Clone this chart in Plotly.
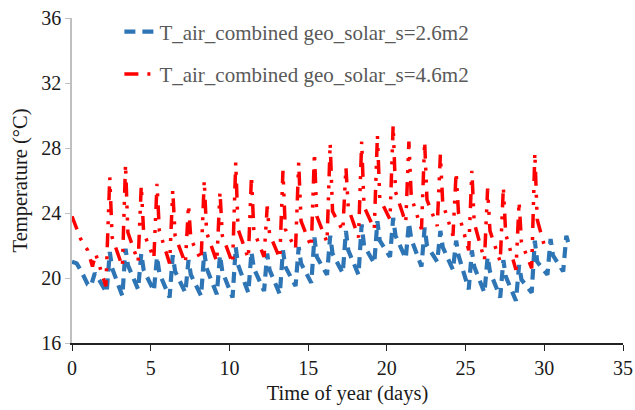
import plotly.graph_objects as go

# Air temperature, combined geothermal + solar system, two collector areas
blue_time = [
    0.00, 0.30, 0.60, 1.00, 1.20, 1.45, 1.60,
    2.20, 2.40, 2.55, 3.20, 3.40, 3.55, 4.20, 4.40, 4.55,
    5.20, 5.40, 5.55, 6.20, 6.40, 6.55, 7.20, 7.40, 7.55,
    8.20, 8.40, 8.55, 9.20, 9.40, 9.55, 10.20, 10.40, 10.55,
    11.20, 11.40, 11.55, 12.20, 12.40, 12.55, 13.20, 13.40, 13.55,
    14.20, 14.40, 14.55, 15.20, 15.40, 15.55, 16.20, 16.40, 16.55,
    17.20, 17.40, 17.55, 18.20, 18.40, 18.55, 19.20, 19.40, 19.55,
    20.20, 20.40, 20.55, 21.20, 21.40, 21.55, 22.20, 22.40, 22.55,
    23.20, 23.40, 23.55, 24.20, 24.40, 24.55, 25.20, 25.40, 25.55,
    26.20, 26.40, 26.55, 27.20, 27.40, 27.55, 28.20, 28.40, 28.55,
    29.20, 29.40, 29.55, 30.20, 30.40, 30.55, 31.20, 31.40, 31.60,
]
blue_temp = [
    21.0, 20.9, 20.4, 19.6, 19.5, 20.3, 20.1,
    19.1, 21.6, 20.6, 18.9, 21.8, 20.8, 19.3, 21.5, 20.5,
    19.2, 21.3, 20.3, 18.8, 21.4, 20.4, 19.1, 21.1, 20.2,
    18.9, 21.6, 20.6, 19.0, 21.4, 20.4, 18.8, 21.9, 20.8,
    19.1, 21.6, 20.6, 19.2, 21.5, 20.5, 19.0, 21.7, 20.7,
    19.5, 21.9, 20.9, 19.7, 22.5, 21.3, 20.2, 22.6, 21.5,
    20.3, 22.9, 21.7, 20.2, 23.3, 22.0, 20.9, 23.5, 22.3,
    21.3, 23.7, 22.6, 21.2, 23.4, 22.4, 20.7, 23.1, 22.0,
    21.0, 22.9, 21.9, 20.5, 22.3, 21.4, 19.3, 21.7, 20.7,
    19.1, 21.3, 20.4, 18.8, 21.1, 20.1, 18.6, 20.8, 19.9,
    19.1, 22.3, 21.0, 20.2, 22.4, 21.4, 20.4, 22.6, 21.9,
]

red_time = [
    0.00, 0.25, 0.55, 1.00, 1.30, 1.50, 1.80,
    2.15, 2.40, 2.55, 3.20, 3.40, 3.55, 4.20, 4.40, 4.55,
    5.20, 5.40, 5.55, 6.20, 6.40, 6.55, 7.20, 7.40, 7.55,
    8.20, 8.40, 8.55, 9.20, 9.40, 9.55, 10.20, 10.40, 10.55,
    11.20, 11.40, 11.55, 12.20, 12.40, 12.55, 13.20, 13.40, 13.55,
    14.20, 14.40, 14.55, 15.20, 15.40, 15.55, 16.20, 16.40, 16.55,
    17.20, 17.40, 17.55, 18.20, 18.40, 18.55, 19.20, 19.40, 19.55,
    20.20, 20.40, 20.55, 21.20, 21.40, 21.55, 22.20, 22.40, 22.55,
    23.20, 23.40, 23.55, 24.20, 24.40, 24.55, 25.20, 25.40, 25.55,
    26.20, 26.40, 26.55, 27.20, 27.40, 27.55, 28.20, 28.40, 28.55,
    29.20, 29.40, 29.55, 30.00,
]
red_temp = [
    23.8, 23.1, 22.4, 21.7, 20.7, 21.5, 20.5,
    19.5, 26.2, 22.5, 20.7, 27.0, 22.8, 21.0, 25.7, 22.8,
    21.2, 25.8, 22.9, 20.9, 25.4, 22.6, 20.9, 24.5, 22.4,
    21.1, 26.0, 22.8, 21.0, 25.3, 22.6, 20.9, 27.1, 23.0,
    21.2, 26.3, 22.9, 21.3, 24.4, 22.7, 21.2, 26.6, 23.0,
    21.8, 27.1, 23.5, 21.9, 27.7, 23.8, 22.2, 28.3, 24.1,
    22.9, 26.8, 24.3, 22.5, 28.4, 24.4, 23.0, 28.8, 24.9,
    23.6, 29.4, 25.3, 23.4, 28.4, 25.0, 23.0, 28.4, 24.8,
    23.2, 27.6, 24.6, 22.6, 26.5, 24.0, 21.7, 26.6, 23.4,
    21.1, 25.5, 22.9, 21.0, 25.6, 22.7, 20.5, 24.7, 22.2,
    20.6, 27.7, 23.6, 22.0,
]

x_ticks = [0, 5, 10, 15, 20, 25, 30, 35]
y_ticks = [16, 20, 24, 28, 32, 36]

serif = "Liberation Serif, Times New Roman, serif"

fig = go.Figure()
fig.add_trace(go.Scatter(
    x=blue_time, y=blue_temp, mode="lines",
    name="T_air_combined geo_solar_s=2.6m2", legendgroup="a",
    line=dict(color="#2E75B6", width=4.2, dash="11px,7px"),
))
fig.add_trace(go.Scatter(
    x=red_time, y=red_temp, mode="lines",
    name="T_air_combined geo_solar_s=4.6m2", legendgroup="b",
    line=dict(color="#FF0000", width=3.5, dash="14px,9px,3px,9px,3px,9px"),
))

fig.update_layout(
    width=635, height=410,
    margin=dict(l=72, r=12, t=18, b=67),
    paper_bgcolor="white", plot_bgcolor="white",
    font=dict(family=serif, size=20, color="#1a1a1a"),
    showlegend=True,
    legend=dict(
        x=0.086, y=1.02, xanchor="left", yanchor="top",
        bgcolor="rgba(0,0,0,0)", tracegroupgap=12,
        font=dict(family=serif, size=21, color="#595959"),
    ),
    xaxis=dict(
        range=[0, 35], tickvals=x_ticks, ticktext=[str(v) for v in x_ticks],
        ticklabeloverflow="allow", automargin=False,
        showgrid=False, zeroline=False,
        showline=True, linecolor="#222222", linewidth=1.5,
        ticks="outside", ticklen=6, tickcolor="#222222",
        tickfont=dict(size=20),
        title=dict(text="Time of year (days)", font=dict(size=20.5), standoff=8),
    ),
    yaxis=dict(
        range=[16, 36], tickvals=y_ticks, ticktext=[str(v) for v in y_ticks],
        automargin=False,
        showgrid=False, zeroline=False,
        showline=True, linecolor="#bfbfbf", linewidth=1.5,
        ticks="outside", ticklen=5, tickcolor="#bfbfbf",
        tickfont=dict(size=20),
        title=dict(text="Temperature (°C)", font=dict(size=20.5), standoff=8),
    ),
)

fig.write_html("out.html")
